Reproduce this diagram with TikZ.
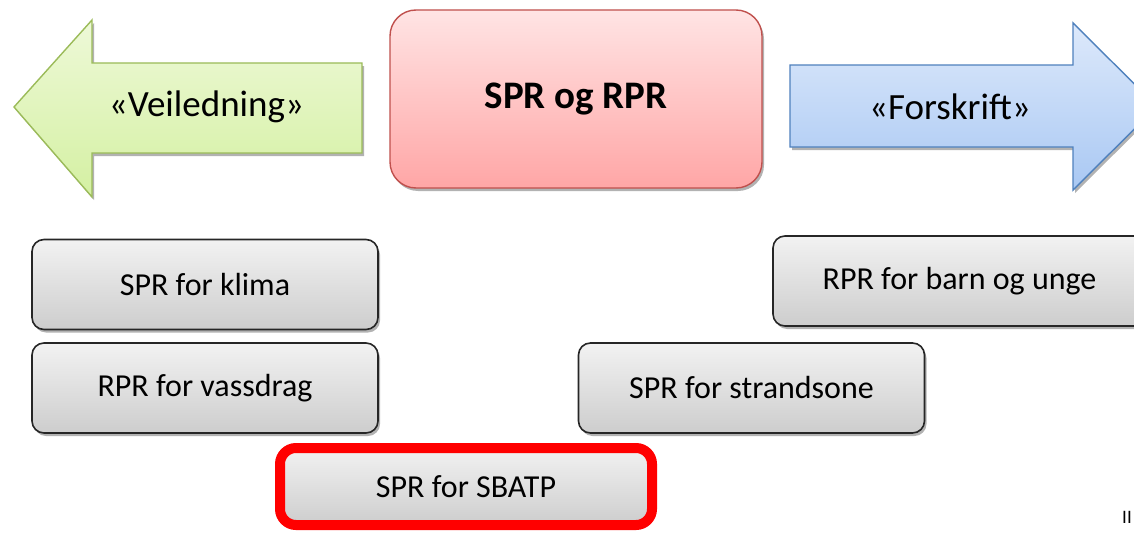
\documentclass[tikz,border=0pt]{standalone}
\usepackage{fontspec}
\setmainfont{Carlito}
\usetikzlibrary{shadows}
\definecolor{grnfillT}{HTML}{EEF9D8}
\definecolor{grnfillB}{HTML}{D4F0A2}
\definecolor{grnline}{HTML}{9BBB59}
\definecolor{blufillT}{HTML}{DDE9FB}
\definecolor{blufillB}{HTML}{A9C8F3}
\definecolor{bluline}{HTML}{4F81BD}
\definecolor{pnkfillT}{HTML}{FFE4E4}
\definecolor{pnkfillB}{HTML}{FFA6A6}
\definecolor{pnkline}{HTML}{C0504D}
\definecolor{gryT}{HTML}{F2F2F2}
\definecolor{gryB}{HTML}{CDCDCD}
\definecolor{hired}{HTML}{FF0000}
\tikzset{
  myshadow/.style={drop shadow={shadow xshift=2pt, shadow yshift=-3pt, opacity=0.3, fill=black}},
  graybox/.style={rectangle, rounded corners=12pt, draw=black!85, line width=1.6pt,
    top color=gryT, bottom color=gryB, myshadow, font=\fontsize{32}{36}\selectfont,
    minimum width=346pt, minimum height=90pt, inner sep=0pt},
  pinkbox/.style={rectangle, rounded corners=26pt, draw=pnkline, line width=1.4pt,
    top color=pnkfillT, bottom color=pnkfillB, myshadow, font=\bfseries\fontsize{39}{44}\selectfont,
    minimum width=372pt, minimum height=178pt, inner sep=0pt},
  arrowtext/.style={font=\fontsize{37}{42}\selectfont},
  greenarrow/.style={draw=grnline, line width=1.4pt, top color=grnfillT, bottom color=grnfillB, myshadow},
  bluearrow/.style={draw=bluline, line width=1.4pt, top color=blufillT, bottom color=blufillB, myshadow},
}
\begin{document}
\begin{tikzpicture}[x=1pt,y=-1pt]
\useasboundingbox (0,0) rectangle (1134,535);
\fill[white] (0,0) rectangle (1134,535);
% arrows
\path[greenarrow] (14,107) -- (92,20) -- (92,63) -- (362,63) -- (362,153) -- (92,153) -- (92,197) -- cycle;
\node[arrowtext] (veil) at (206.5,107) {«Veiledning»};
\begin{scope}
\clip (0,0) rectangle (1134,535);
\path[bluearrow] (790,65) -- (1073,65) -- (1073,23) -- (1157,106.5) -- (1073,190) -- (1073,147) -- (790,147) -- cycle;
\end{scope}
\node[arrowtext] (forsk) at (950,107) {«Forskrift»};
% centre
\node[pinkbox] (main) at (576,99) {SPR og RPR};
% gray boxes
\node[graybox] (klima) at (205,284.5) {SPR for klima};
\node[graybox] (vass) at (205,388) {RPR for vassdrag};
\begin{scope}
\clip (0,0) rectangle (1134,535);
\node[graybox, minimum width=373pt] (barn) at (959.5,281) {RPR for barn og unge};
\end{scope}
\node[graybox] (strand) at (751.5,388) {SPR for strandsone};
\node[graybox, draw=hired, line width=10pt, rounded corners=16pt, minimum width=372pt, minimum height=77pt] (sbatp) at (466,486.5) {SPR for SBATP};
\node[font=\fontsize{19}{22}\selectfont, inner sep=0pt] (ii) at (1127,517) {II};
\end{tikzpicture}
\end{document}
